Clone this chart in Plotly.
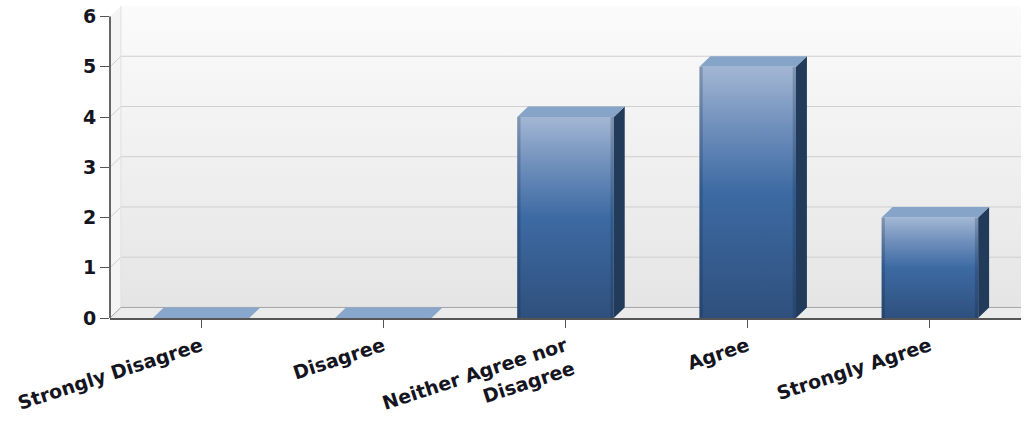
import plotly.graph_objects as go

# Survey responses
categories = ["Strongly Disagree", "Disagree", "Neither Agree nor Disagree", "Agree", "Strongly Agree"]
tick_text = ["Strongly Disagree", "Disagree", "Neither Agree nor<br>Disagree", "Agree", "Strongly Agree"]
values = [0, 0, 4, 5, 2]
y_ticks = [0, 1, 2, 3, 4, 5, 6]

# Pseudo-3D geometry (data units)
X0, X1 = -0.5, len(categories) - 0.5
DX, DY = 0.06, 0.21
BAR_W = 0.53
YMAX = y_ticks[-1]

FONT = "DejaVu Sans"
TXT = "#15151f"

fig = go.Figure()


def poly(xs, ys, **kw):
    fig.add_trace(go.Scatter(x=xs, y=ys, mode="lines", fill="toself",
                             line=dict(width=0), hoverinfo="skip",
                             showlegend=False, **kw))


# back wall with soft vertical gradient
poly([X0 + DX, X1, X1, X0 + DX, X0 + DX], [DY, DY, YMAX + DY, YMAX + DY, DY],
     fillgradient=dict(type="vertical", colorscale=[[0, "#e5e5e5"], [1, "#fbfbfb"]]))
# left side wall
poly([X0, X0 + DX, X0 + DX, X0, X0], [0, DY, YMAX + DY, YMAX, 0], fillcolor="#f4f4f4")

# grid lines on the back wall (with the short diagonal on the side wall)
gx, gy = [], []
for t in y_ticks[1:-1]:
    gx += [X0, X0 + DX, X1, None]
    gy += [t, t + DY, t + DY, None]
fig.add_trace(go.Scatter(x=gx, y=gy, mode="lines", line=dict(color="#cfcfcf", width=1),
                         hoverinfo="skip", showlegend=False))
# wall corner
fig.add_trace(go.Scatter(x=[X0 + DX, X0 + DX], y=[DY, YMAX + DY], mode="lines",
                         line=dict(color="#e0e0e0", width=1), hoverinfo="skip", showlegend=False))

# floor
poly([X0, X1, X1, X0 + DX, X0], [0, 0, DY, DY, 0], fillcolor="#ebebeb")
fig.add_trace(go.Scatter(x=[X0, X0 + DX, X1], y=[0, DY, DY], mode="lines",
                         line=dict(color="#a4a4a4", width=1), hoverinfo="skip", showlegend=False))

# bars
front_scale = [[0, "#2f507d"], [0.5, "#3d6aa3"], [0.78, "#7392bd"], [1, "#a3b7d4"]]
for i, v in enumerate(values):
    left, right = i - BAR_W / 2, i + BAR_W / 2
    if v > 0:
        poly([left, right, right, left, left], [0, 0, v, v, 0],
             fillgradient=dict(type="vertical", colorscale=front_scale))
        # bevel shading on the vertical edges
        e = 0.018
        poly([left, left + e, left + e, left, left], [0, 0, v, v, 0], fillcolor="rgba(15,30,55,0.22)")
        poly([right - e, right, right, right - e, right - e], [0, 0, v, v, 0], fillcolor="rgba(15,30,55,0.22)")
        # side face
        poly([right, right + DX, right + DX, right, right], [0, DY, v + DY, v, 0], fillcolor="#233b5a")
        top_col = "#86a3c8"
    else:
        top_col = "#89a7cc"
    # top face
    poly([left, right, right + DX, left + DX, left], [v, v, v + DY, v + DY, v], fillcolor=top_col)

# value axis line, stopping at the top tick
fig.add_shape(type="line", xref="paper", yref="y", x0=0, x1=0, y0=0, y1=YMAX,
              line=dict(color="#666666", width=2))

fig.update_layout(
    width=1024, height=421,
    margin=dict(l=110, r=3, t=5, b=103, autoexpand=False),
    paper_bgcolor="white", plot_bgcolor="white",
    showlegend=False,
    xaxis=dict(range=[X0, X1], tickmode="array", tickvals=list(range(len(categories))),
               ticktext=tick_text, tickangle=-18, showgrid=False, zeroline=False,
               automargin=False,
               showline=True, linecolor="#555555", linewidth=2,
               ticks="outside", ticklen=8, tickwidth=1, tickcolor="#555555",
               tickfont=dict(family=FONT, size=19, color=TXT, weight="bold")),
    yaxis=dict(range=[0, 6.23], tickmode="array", tickvals=y_ticks,
               showgrid=False, zeroline=False, showline=False, automargin=False,
               ticks="outside", ticklen=9, tickwidth=1, tickcolor="#555555",
               tickfont=dict(family=FONT, size=19, color=TXT, weight="bold")),
)

fig.write_html("out.html")
